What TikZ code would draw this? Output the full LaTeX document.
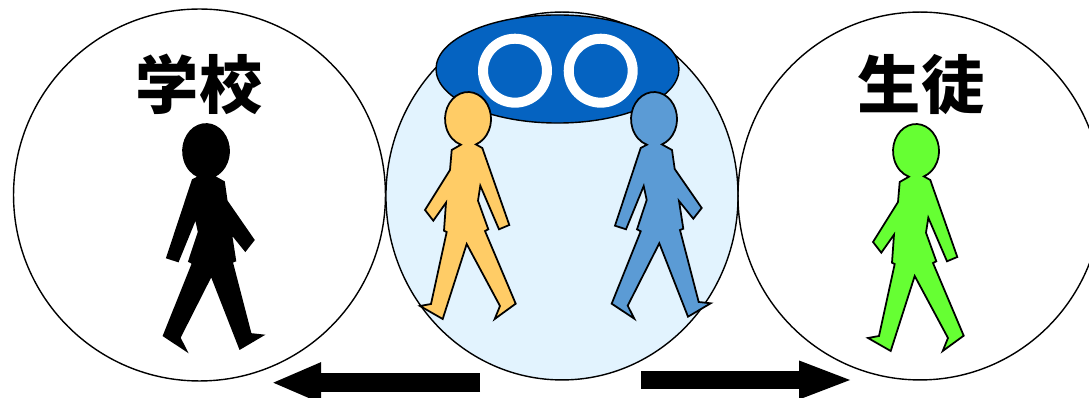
\documentclass[tikz,border=0pt]{standalone}
\usepackage{fontspec}
\newfontfamily\cjkfont{Noto Sans CJK JP}
\usetikzlibrary{arrows.meta,shapes.geometric}
\definecolor{paleblue}{HTML}{E2F3FE}
\definecolor{capblue}{HTML}{0563C1}
\definecolor{walkorange}{HTML}{FFCC66}
\definecolor{walkblue}{HTML}{5B9BD5}
\definecolor{walkgreen}{HTML}{66FF33}
\begin{document}
\begin{tikzpicture}[x=0.02cm,y=-0.02cm,
  bigcircle/.style={draw,ellipse,line width=0.8pt,inner sep=0pt},
  ring/.style={draw=white,circle,line width=5.7pt,minimum size=36.4pt,inner sep=0pt},
  title/.style={inner sep=0pt,font=\cjkfont\bfseries\fontsize{36}{40}\selectfont},
  walkera/.pic={\path[draw,line width=1pt,line join=miter,pic actions]
    (7.9,25.4) arc[start angle=70,end angle=-252,x radius=23,y radius=27]
    -- (-16.3,31) -- (-18,51) -- (-43,91) -- (-34.7,101.7) -- (-22,83.7) -- (-24,111.7)
    -- (-21.3,113) -- (-37,185) -- (-48,187) -- (-25.3,200) -- (-1.3,125) -- (32,187)
    -- (26.7,200) -- (47.7,184.7) -- (17,112) -- (20.3,110.3) -- (10,81.7) -- (12.3,66.7)
    -- (31,110.3) -- (41.3,106) -- (14.3,29) -- cycle;},
  walkerb/.pic={\path[draw,line width=1pt,line join=miter,pic actions]
    (7.9,25.4) arc[start angle=70,end angle=-252,x radius=23,y radius=27]
    -- (-13.3,29) -- (-39,106.7) -- (-28,110.3) -- (-10.3,67) -- (-7.3,81) -- (-17,110.3)
    -- (-13.3,112.3) -- (-42.3,184.7) -- (-19.7,199.7) -- (-26.3,186.7) -- (5.3,124.3)
    -- (34,197.7) -- (56.7,184.3) -- (44.7,183) -- (26,111) -- (29.3,109.7) -- (25,82)
    -- (39.3,99.7) -- (47.7,89) -- (20.7,50) -- (18,31) -- cycle;}]
\useasboundingbox (0,0) rectangle (1089,398);
\node[bigcircle,minimum width=211.7pt,minimum height=211.7pt] (school) at (199.5,195) {};
\node[bigcircle,fill=paleblue,minimum width=200.4pt,minimum height=209.4pt] (middle) at (562,196) {};
\node[bigcircle,minimum width=207.2pt,minimum height=209.4pt] (student) at (920,196) {};
\node[bigcircle,fill=capblue,minimum width=138.3pt,minimum height=61.5pt] (cap) at (557.5,69) {};
\node[ring] (ringl) at (515,70.7) {};
\node[ring] (ringr) at (600.7,70.7) {};
\node[title] (schoolname) at (199,84) {学校};
\node[title] (studentname) at (921,85) {生徒};
\pic[fill=black] at (206,151) {walkerb};
\pic[fill=walkorange] at (468,119) {walkera};
\pic[fill=walkblue] at (654,119) {walkerb};
\pic[fill=walkgreen] at (916,151) {walkera};
\coordinate (lefttail) at (480,382.7);
\coordinate (lefttip) at (271,382.7);
\coordinate (righttail) at (641,380);
\coordinate (righttip) at (854,380);
\draw[line width=10.5pt,-{Triangle[length=28.5pt,width=21pt]}] (lefttail) -- (lefttip);
\draw[line width=10.2pt,-{Triangle[length=31.3pt,width=19.4pt]}] (righttail) -- (righttip);
\end{tikzpicture}
\end{document}
